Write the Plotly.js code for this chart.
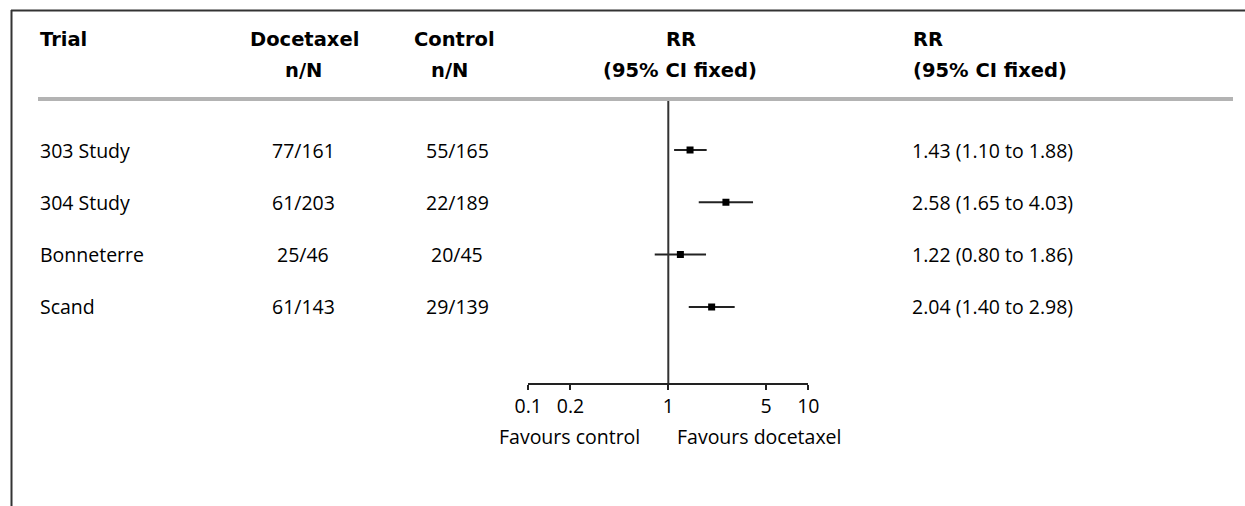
<!DOCTYPE html>
<html>
<head>
<meta charset="utf-8">
<script src="https://cdn.plot.ly/plotly-3.0.1.min.js"></script>
<style>html,body{margin:0;padding:0;background:#fff;}#chart{width:1245px;height:506px;}</style>
</head>
<body>
<div id="chart"></div>
<script>
// ---- data ----
const trials = ["303 Study", "304 Study", "Bonneterre", "Scand"];
const docetaxelNN = ["77/161", "61/203", "25/46", "61/143"];
const controlNN = ["55/165", "22/189", "20/45", "29/139"];
const rr = [1.43, 2.58, 1.22, 2.04];
const ciLow = [1.10, 1.65, 0.80, 1.40];
const ciHigh = [1.88, 4.03, 1.86, 2.98];
const tickVals = [0.1, 0.2, 1, 5, 10];
const tickText = ["0.1", "0.2", "1", "5", "10"];
const nullValue = 1;

// ---- layout helpers ----
const W = 1245, H = 506;
const FONT = "'Open Sans', Lato, sans-serif";
const BFONT = "'DejaVu Sans', sans-serif";
const FS = 19.5;
const BFS = 19.5;
const px = v => v / W;
const py = v => 1 - v / H;
const rowY = trials.map((_, i) => i);

// CI segments
const ciX = [], ciY = [];
trials.forEach((_, i) => { ciX.push(ciLow[i], ciHigh[i], null); ciY.push(rowY[i], rowY[i], null); });

const traces = [
  { x: ciX, y: ciY, mode: "lines", line: { color: "#222", width: 2 }, hoverinfo: "skip", showlegend: false },
  { x: rr, y: rowY, mode: "markers", marker: { symbol: "square", size: 7, color: "#000" }, showlegend: false }
];

const rowPx = 52.3, row0 = 150;
const yTop = (0 - row0) / rowPx;
const yBot = (383 - row0) / rowPx;

const annotations = [];
function ann(text, x, y, anchor, bold, yref) {
  annotations.push({
    text: bold ? "<b>" + text + "</b>" : text,
    x: x, y: y, xref: "paper", yref: yref || "paper",
    xanchor: anchor, yanchor: "middle", showarrow: false,
    font: { family: bold ? BFONT : FONT, size: bold ? BFS : FS, color: "#000" }
  });
}
// headers
const h1 = 40, h2 = 71;
ann("Trial", px(38), py(h1), "left", true);
ann("Docetaxel", px(304), py(h1), "center", true);
ann("n/N", px(303), py(h2), "center", true);
ann("Control", px(454), py(h1), "center", true);
ann("n/N", px(449), py(h2), "center", true);
ann("RR", px(681), py(h1), "center", true);
ann("(95% CI fixed)", px(680), py(h2), "center", true);
ann("RR", px(911), py(h1), "left", true);
ann("(95% CI fixed)", px(911), py(h2), "left", true);
// rows
trials.forEach((t, i) => {
  ann(t, px(38), rowY[i], "left", false, "y");
  ann(docetaxelNN[i], px(303), rowY[i], "center", false, "y");
  ann(controlNN[i], px(457), rowY[i], "center", false, "y");
  ann(rr[i].toFixed(2) + " (" + ciLow[i].toFixed(2) + " to " + ciHigh[i].toFixed(2) + ")", px(910), rowY[i], "left", false, "y");
});
// favours labels
ann("Favours control", px(642), py(436), "right", false);
ann("Favours docetaxel", px(675), py(436), "left", false);

const shapes = [
  // frame
  { type: "line", xref: "paper", yref: "paper", x0: px(11), x1: 1, y0: py(10.5), y1: py(10.5), line: { color: "#333", width: 2 } },
  { type: "line", xref: "paper", yref: "paper", x0: px(11.5), x1: px(11.5), y0: py(10), y1: 0, line: { color: "#333", width: 2 } },
  // header separator
  { type: "line", xref: "paper", yref: "paper", x0: px(38), x1: px(1233), y0: py(99), y1: py(99), line: { color: "#b3b3b3", width: 4 } },
  // null line
  { type: "line", xref: "x", yref: "y", x0: nullValue, x1: nullValue, y0: (101 - row0) / rowPx, y1: yBot, line: { color: "#333", width: 2 } }
];

const layout = {
  width: W, height: H,
  margin: { l: 0, r: 0, t: 0, b: 0 },
  paper_bgcolor: "#fff", plot_bgcolor: "rgba(0,0,0,0)",
  font: { family: FONT, size: FS, color: "#000" },
  xaxis: {
    type: "log", domain: [528.3 / W, 808.3 / W], range: [-1, 1],
    tickmode: "array", tickvals: tickVals, ticktext: tickText,
    showgrid: false, zeroline: false, showline: true, linecolor: "#222", linewidth: 2,
    ticks: "outside", ticklen: 5, tickwidth: 2, tickcolor: "#222",
    tickfont: { family: FONT, size: FS, color: "#000" }, fixedrange: true
  },
  yaxis: {
    domain: [(H - 383) / H, 1], range: [yBot, yTop],
    visible: false, showgrid: false, zeroline: false, fixedrange: true
  },
  shapes: shapes,
  annotations: annotations,
  showlegend: false
};

Plotly.newPlot("chart", traces, layout, { displayModeBar: false, staticPlot: true });
</script>
</body>
</html>
